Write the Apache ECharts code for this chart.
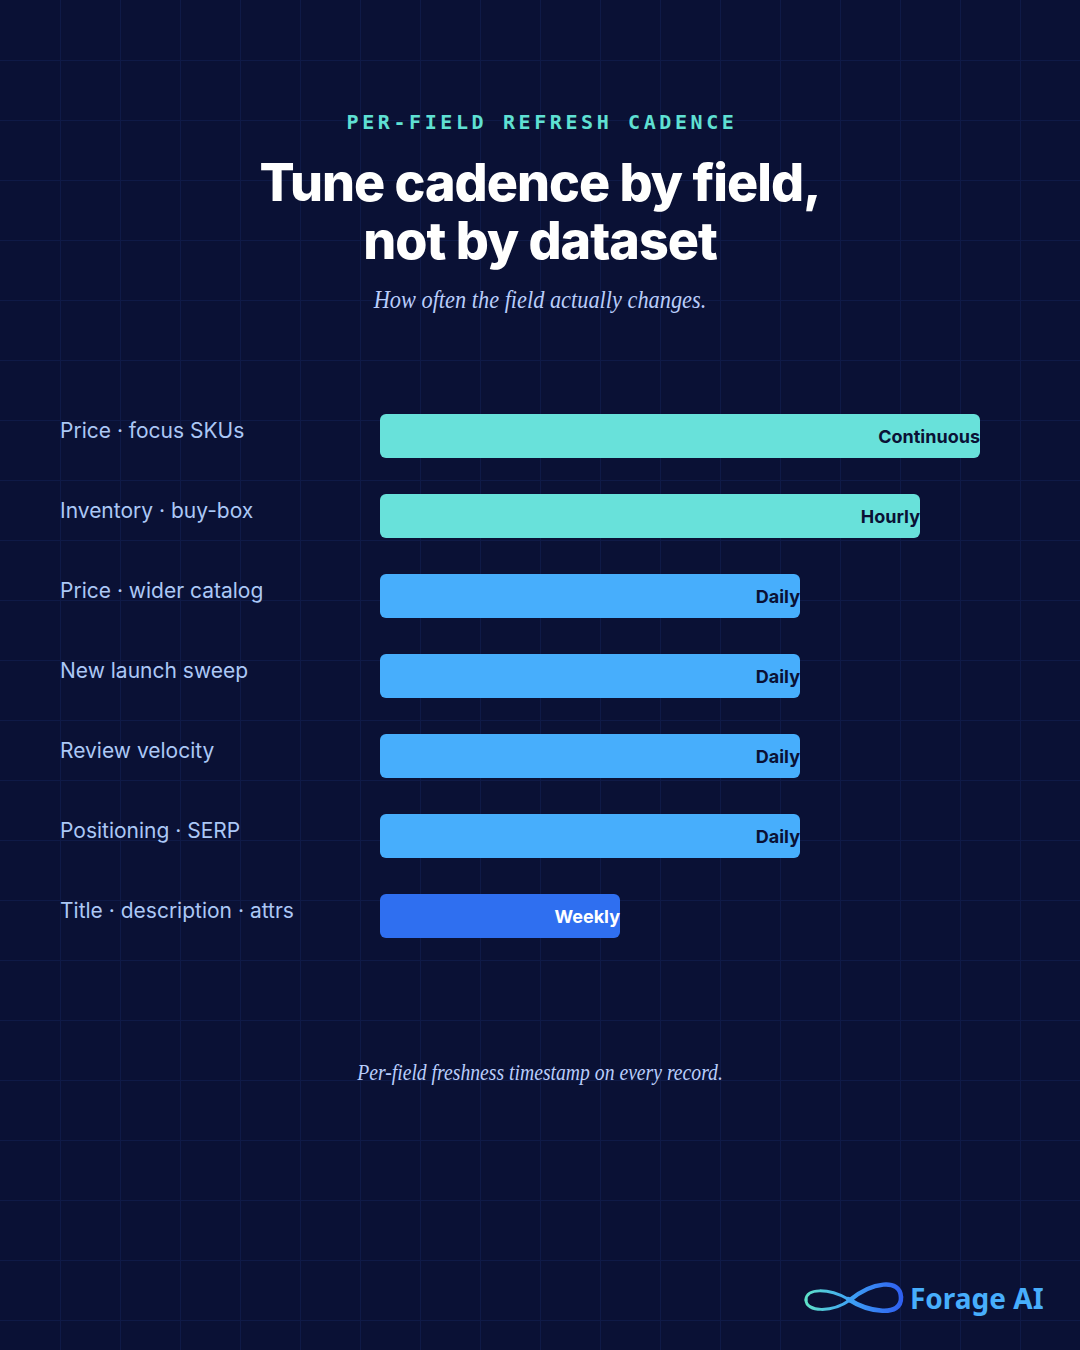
<!DOCTYPE html>
<html><head><meta charset="utf-8">
<script src="https://cdn.jsdelivr.net/npm/echarts@6/dist/echarts.min.js"></script>
<style>
html,body{margin:0;padding:0;background:#0a1135;}
#c{width:1080px;height:1350px;}
#c text[fill="#5fe0d3"]{letter-spacing:3.6px;}
#c text[fill="#fffffe"]{letter-spacing:-1px;}
</style>
</head><body><div id="c"></div>
<script>
const categories = ["Price · focus SKUs","Inventory · buy-box","Price · wider catalog","New launch sweep","Review velocity","Positioning · SERP","Title · description · attrs"];
const cadence = ["Continuous","Hourly","Daily","Daily","Daily","Daily","Weekly"];
const values = [100, 90, 70, 70, 70, 70, 40];

const tierColor = {Continuous:"#68e1da", Hourly:"#68e1da", Daily:"#47aefc", Weekly:"#2f6ff0"};
const tierText = {Continuous:"#0a1135", Hourly:"#0a1135", Daily:"#0a1135", Weekly:"#ffffff"};

const chart = echarts.init(document.getElementById('c'), null, {renderer:'svg'});

const gridLines = [];
for (let x = 60; x < 1080; x += 60) gridLines.push({type:'line', silent:true, z:-10, shape:{x1:x+0.5,y1:0,x2:x+0.5,y2:1350}, style:{stroke:'#0f1a47', lineWidth:1}});
for (let y = 60; y < 1350; y += 60) gridLines.push({type:'line', silent:true, z:-10, shape:{x1:0,y1:y+0.5,x2:1080,y2:y+0.5}, style:{stroke:'#0f1a47', lineWidth:1}});

const logoGrad = new echarts.graphic.LinearGradient(805, 0, 902, 0, [{offset:0,color:'#5fe3c8'},{offset:0.45,color:'#3fa4f5'},{offset:1,color:'#2f5ff0'}], true);
const logoSegs = [
  [806,1300, 806,1288, 828,1288, 848,1299, 3],
  [848,1299, 868,1312, 902,1318, 901,1297, 4.5],
  [901,1297, 900,1278, 872,1282, 850,1300, 4.5],
  [850,1300, 832,1313, 806,1312, 806,1300, 3]
].map(s => ({type:'bezierCurve', silent:true,
  shape:{x1:s[0],y1:s[1],cpx1:s[2],cpy1:s[3],cpx2:s[4],cpy2:s[5],x2:s[6],y2:s[7]},
  style:{fill:null, stroke:logoGrad, lineWidth:s[8], lineCap:'round'}}));

const texts = [
  {type:'text', x:542, y:122, style:{text:'PER-FIELD REFRESH CADENCE', font:'bold 20px "DejaVu Sans Mono"', fill:'#5fe0d3', align:'center', verticalAlign:'middle'}},
  {type:'text', x:540, y:182, style:{text:'Tune cadence by field,', font:'800 52px Inter', fill:'#fffffe', align:'center', verticalAlign:'middle'}},
  {type:'text', x:540, y:240, style:{text:'not by dataset', font:'800 52px Inter', fill:'#fffffe', align:'center', verticalAlign:'middle'}},
  {type:'text', x:540, y:299, scaleX:0.86, style:{text:'How often the field actually changes.', font:'italic 26px "Liberation Serif"', fill:'#b9cdfb', align:'center', verticalAlign:'middle'}},
  {type:'text', x:540, y:1072, scaleX:0.82, style:{text:'Per-field freshness timestamp on every record.', font:'italic 24px "Liberation Serif"', fill:'#b9cdfb', align:'center', verticalAlign:'middle'}},
  {type:'text', x:910, y:1298, style:{text:'Forage AI', font:'bold 28px "Noto Sans"', fill:'#47aefc', verticalAlign:'middle'}}
];

chart.setOption({
  backgroundColor:'#0a1135',
  animation:false,
  graphic: gridLines.concat(logoSegs, texts),
  grid:{left:380, width:600, top:396, height:560, containLabel:false},
  xAxis:{type:'value', min:0, max:100, show:false},
  yAxis:{type:'category', data:categories, inverse:true,
    axisLine:{show:false}, axisTick:{show:false}, splitLine:{show:false},
    axisLabel:{align:'left', margin:320, color:'#acc8f6', fontFamily:'Inter', fontSize:21, verticalAlign:'bottom', lineHeight:12}},
  series:[{
    type:'bar', barWidth:44,
    data: values.map((v,i)=>({value:v, itemStyle:{color:tierColor[cadence[i]], borderRadius:6},
      label:{color:tierText[cadence[i]]}})),
    label:{show:true, position:'insideRight', distance:0, fontFamily:'Inter', fontWeight:'bold', fontSize:18,
      formatter:(p)=>cadence[p.dataIndex]}
  }]
});
</script></body></html>
